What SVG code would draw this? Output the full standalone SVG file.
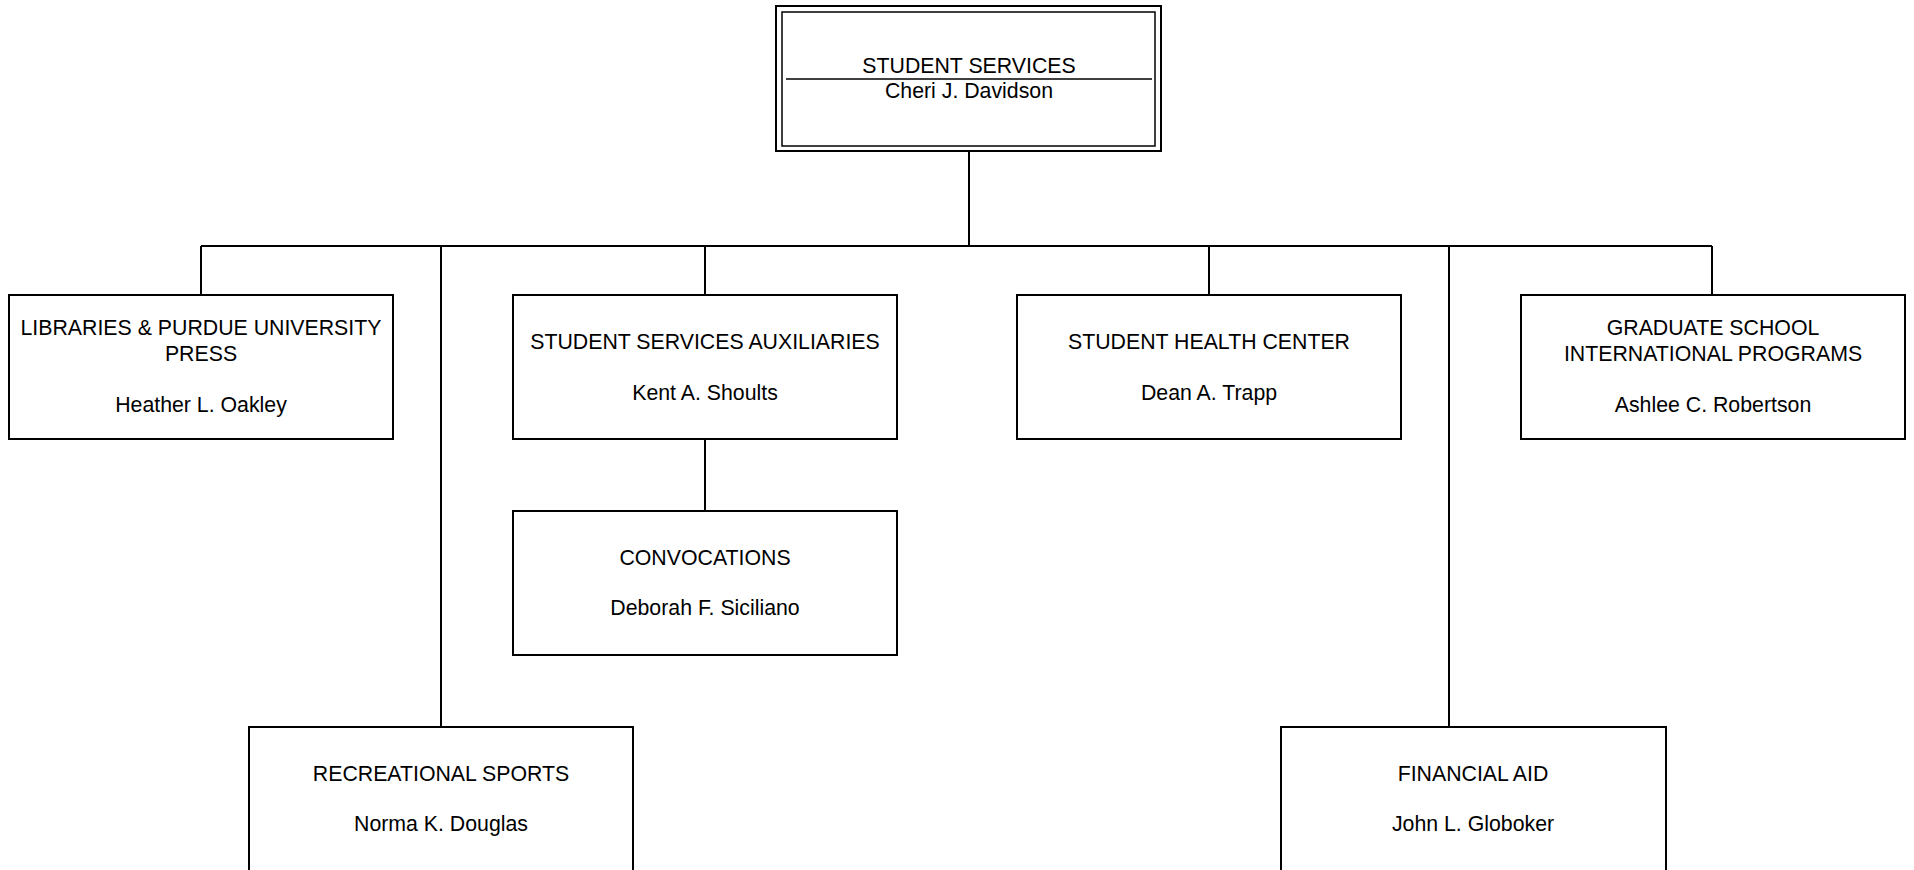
<svg xmlns="http://www.w3.org/2000/svg" width="1914" height="870" viewBox="0 0 1914 870">
<style>
.box{fill:#fff;stroke:#000;stroke-width:2}
.inner{fill:none;stroke:#000;stroke-width:1.5}
.conn{fill:none;stroke:#000;stroke-width:2}
text{font-family:"Liberation Sans",Arial,sans-serif;font-size:21.3px;fill:#000;text-anchor:middle}
</style>
<rect width="1914" height="870" fill="#fff"/>
<g id="connectors">
<path class="conn" d="M969 151V246M201 246H1712M201 246V295M441 246V727M705 246V295M1209 246V295M1449 246V727M1712 246V295M705 439V511"/>
</g>
<g id="student-services">
<rect class="box" x="776" y="6" width="385" height="145"/>
<rect class="inner" x="782" y="12" width="373" height="134"/>
<line x1="786" y1="79" x2="1152" y2="79" stroke="#000" stroke-width="1.6"/>
<text x="969" y="73">STUDENT SERVICES</text>
<text x="969" y="98">Cheri J. Davidson</text>
</g>
<g id="libraries">
<rect class="box" x="9" y="295" width="384" height="144"/>
<text x="201" y="334.5">LIBRARIES &amp; PURDUE UNIVERSITY</text>
<text x="201" y="361">PRESS</text>
<text x="201" y="411.5">Heather L. Oakley</text>
</g>
<g id="auxiliaries">
<rect class="box" x="513" y="295" width="384" height="144"/>
<text x="705" y="348.5">STUDENT SERVICES AUXILIARIES</text>
<text x="705" y="399.5">Kent A. Shoults</text>
</g>
<g id="convocations">
<rect class="box" x="513" y="511" width="384" height="144"/>
<text x="705" y="564.5">CONVOCATIONS</text>
<text x="705" y="615">Deborah F. Siciliano</text>
</g>
<g id="health-center">
<rect class="box" x="1017" y="295" width="384" height="144"/>
<text x="1209" y="348.5">STUDENT HEALTH CENTER</text>
<text x="1209" y="399.5">Dean A. Trapp</text>
</g>
<g id="graduate-school">
<rect class="box" x="1521" y="295" width="384" height="144"/>
<text x="1713" y="334.5">GRADUATE SCHOOL</text>
<text x="1713" y="361">INTERNATIONAL PROGRAMS</text>
<text x="1713" y="411.5">Ashlee C. Robertson</text>
</g>
<g id="recreational-sports">
<rect class="box" x="249" y="727" width="384" height="144"/>
<text x="441" y="781">RECREATIONAL SPORTS</text>
<text x="441" y="831">Norma K. Douglas</text>
</g>
<g id="financial-aid">
<rect class="box" x="1281" y="727" width="385" height="144"/>
<text x="1473" y="781">FINANCIAL AID</text>
<text x="1473" y="831">John L. Globoker</text>
</g>
</svg>
